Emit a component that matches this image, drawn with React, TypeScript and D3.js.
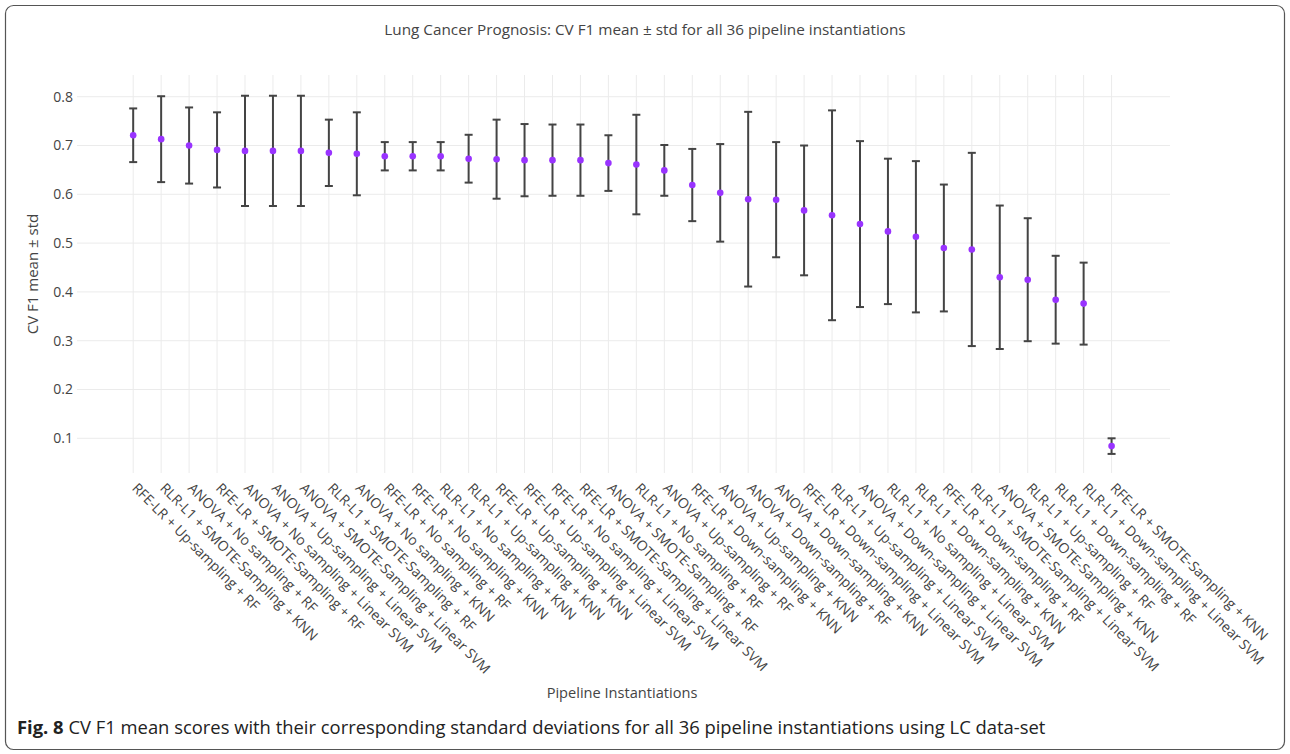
import React, { useEffect, useRef } from 'react';
import * as d3 from 'd3';

// pipelines sorted by mean CV F1 (left to right)
const pipelines = [
  'RFE-LR + Up-sampling + RF',
  'RLR-L1 + SMOTE-Sampling + KNN',
  'ANOVA + No sampling + RF',
  'RFE-LR + SMOTE-Sampling + RF',
  'ANOVA + No sampling + Linear SVM',
  'ANOVA + Up-sampling + Linear SVM',
  'ANOVA + SMOTE-Sampling + Linear SVM',
  'RLR-L1 + SMOTE-Sampling + RF',
  'ANOVA + No sampling + KNN',
  'RFE-LR + No sampling + RF',
  'RFE-LR + No sampling + KNN',
  'RLR-L1 + No sampling + KNN',
  'RLR-L1 + Up-sampling + KNN',
  'RFE-LR + Up-sampling + KNN',
  'RFE-LR + Up-sampling + Linear SVM',
  'RFE-LR + No sampling + Linear SVM',
  'RFE-LR + SMOTE-Sampling + Linear SVM',
  'ANOVA + SMOTE-Sampling + RF',
  'RLR-L1 + No sampling + RF',
  'ANOVA + Up-sampling + RF',
  'RFE-LR + Down-sampling + KNN',
  'ANOVA + Up-sampling + KNN',
  'ANOVA + Down-sampling + RF',
  'ANOVA + Down-sampling + KNN',
  'RFE-LR + Down-sampling + Linear SVM',
  'RLR-L1 + Up-sampling + Linear SVM',
  'ANOVA + Down-sampling + Linear SVM',
  'RLR-L1 + No sampling + Linear SVM',
  'RLR-L1 + Down-sampling + KNN',
  'RFE-LR + Down-sampling + RF',
  'RLR-L1 + SMOTE-Sampling + Linear SVM',
  'ANOVA + SMOTE-Sampling + KNN',
  'RLR-L1 + Up-sampling + RF',
  'RLR-L1 + Down-sampling + RF',
  'RLR-L1 + Down-sampling + Linear SVM',
  'RFE-LR + SMOTE-Sampling + KNN',
];

const meanF1 = [
  0.721, 0.713, 0.7, 0.691, 0.689, 0.689, 0.689, 0.685, 0.683, 0.678, 0.678, 0.678,
  0.673, 0.672, 0.67, 0.67, 0.67, 0.664, 0.661, 0.649, 0.619, 0.603, 0.59, 0.589,
  0.567, 0.557, 0.539, 0.524, 0.513, 0.49, 0.487, 0.43, 0.425, 0.384, 0.376, 0.084,
];

const stdF1 = [
  0.055, 0.088, 0.078, 0.077, 0.113, 0.113, 0.113, 0.068, 0.085, 0.029, 0.029, 0.029,
  0.049, 0.081, 0.074, 0.073, 0.073, 0.057, 0.102, 0.052, 0.074, 0.1, 0.179, 0.118,
  0.133, 0.215, 0.17, 0.149, 0.155, 0.13, 0.198, 0.147, 0.126, 0.09, 0.084, 0.016,
];

const yTicks = [0.1, 0.2, 0.3, 0.4, 0.5, 0.6, 0.7, 0.8];

const FONT = '"Open Sans", "Noto Sans", sans-serif';

const App = () => {
  const ref = useRef<SVGSVGElement>(null);

  useEffect(() => {
    const svg = d3.select(ref.current);
    svg.selectAll('*').remove();

    const left = 77, right = 1170, top = 75, bottom = 473;

    const x = d3.scaleLinear().domain([-2.01, 37.09]).range([left, right]);
    const y = d3.scaleLinear().domain([0.0289, 0.8445]).range([bottom, top]);

    // figure frame
    svg.append('rect')
      .attr('x', 5.5).attr('y', 5.5)
      .attr('width', 1279).attr('height', 744)
      .attr('rx', 8)
      .attr('fill', 'none')
      .attr('stroke', '#555')
      .attr('stroke-width', 1.2);

    // grid
    svg.append('g').selectAll('line')
      .data(yTicks)
      .enter().append('line')
      .attr('x1', left).attr('x2', right)
      .attr('y1', d => y(d)).attr('y2', d => y(d))
      .attr('stroke', '#ebebeb');

    svg.append('g').selectAll('line')
      .data(pipelines)
      .enter().append('line')
      .attr('x1', (d, i) => x(i)).attr('x2', (d, i) => x(i))
      .attr('y1', top).attr('y2', bottom)
      .attr('stroke', '#ebebeb');

    // y tick labels
    svg.append('g').selectAll('text')
      .data(yTicks)
      .enter().append('text')
      .attr('x', 73)
      .attr('y', d => y(d))
      .attr('dy', '0.35em')
      .attr('text-anchor', 'end')
      .attr('font-family', FONT)
      .attr('font-size', 14)
      .attr('fill', '#444')
      .text(d => d.toFixed(1));

    // x tick labels, rotated 45deg
    svg.append('g').selectAll('text')
      .data(pipelines)
      .enter().append('text')
      .attr('transform', (d, i) => `translate(${x(i) - 2},${489}) rotate(45)`)
      .attr('font-family', FONT)
      .attr('font-size', 14)
      .attr('fill', '#444')
      .text(d => d);

    // error bars
    const bars = svg.append('g').selectAll('g')
      .data(meanF1)
      .enter().append('g')
      .attr('stroke', '#444')
      .attr('stroke-width', 2);

    bars.append('line')
      .attr('x1', (d, i) => x(i)).attr('x2', (d, i) => x(i))
      .attr('y1', (d, i) => y(d - stdF1[i]))
      .attr('y2', (d, i) => y(d + stdF1[i]));
    bars.append('line')
      .attr('x1', (d, i) => x(i) - 4).attr('x2', (d, i) => x(i) + 4)
      .attr('y1', (d, i) => y(d + stdF1[i]))
      .attr('y2', (d, i) => y(d + stdF1[i]));
    bars.append('line')
      .attr('x1', (d, i) => x(i) - 4).attr('x2', (d, i) => x(i) + 4)
      .attr('y1', (d, i) => y(d - stdF1[i]))
      .attr('y2', (d, i) => y(d - stdF1[i]));

    // mean markers
    svg.append('g').selectAll('circle')
      .data(meanF1)
      .enter().append('circle')
      .attr('cx', (d, i) => x(i))
      .attr('cy', d => y(d))
      .attr('r', 3.3)
      .attr('fill', '#9933ff');

    // titles
    svg.append('text')
      .attr('x', 645).attr('y', 35)
      .attr('text-anchor', 'middle')
      .attr('font-family', FONT)
      .attr('font-size', 15.3)
      .attr('fill', '#444')
      .text('Lung Cancer Prognosis: CV F1 mean ± std for all 36 pipeline instantiations');

    svg.append('text')
      .attr('transform', `translate(33,${(top + bottom) / 2}) rotate(-90)`)
      .attr('dy', '0.35em')
      .attr('text-anchor', 'middle')
      .attr('font-family', FONT)
      .attr('font-size', 15)
      .attr('fill', '#444')
      .text('CV F1 mean ± std');

    svg.append('text')
      .attr('x', 622).attr('y', 698)
      .attr('text-anchor', 'middle')
      .attr('font-family', FONT)
      .attr('font-size', 14.6)
      .attr('fill', '#444')
      .text('Pipeline Instantiations');

    // figure caption
    const cap = svg.append('text')
      .attr('x', 17).attr('y', 734)
      .attr('font-family', FONT)
      .attr('font-size', 18.4)
      .attr('fill', '#222');
    cap.append('tspan').attr('font-weight', 'bold').text('Fig. 8');
    cap.append('tspan').text(' CV F1 mean scores with their corresponding standard deviations for all 36 pipeline instantiations using LC data-set');
  }, []);

  return (
    <svg
      ref={ref}
      width={1290}
      height={754}
      style={{ position: 'absolute', left: 0, top: 0, background: '#fff' }}
    />
  );
};

export default App;
